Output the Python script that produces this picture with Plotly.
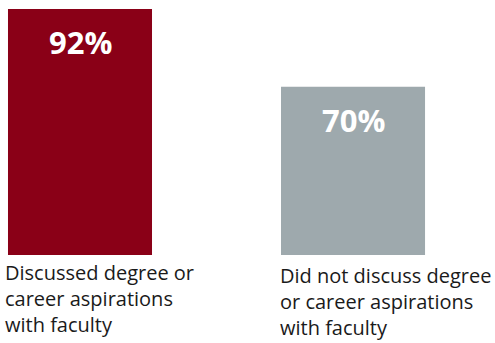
import plotly.graph_objects as go

categories = ["Discussed degree or<br>career aspirations<br>with faculty",
              "Did not discuss degree<br>or career aspirations<br>with faculty"]
values = [92, 70]
colors = ["#8A0017", "#9EA9AD"]
value_labels = [f"{v}%" for v in values]

bar_width = 0.5275
xs = list(range(len(values)))

fig = go.Figure()
fig.add_trace(go.Bar(x=xs, y=values, width=bar_width, marker=dict(color=colors, line=dict(width=0)),
                     hoverinfo="skip"))

for i, (v, t) in enumerate(zip(values, value_labels)):
    fig.add_annotation(x=i, y=v, xref="x", yref="y", text=f"<b>{t}</b>", showarrow=False,
                       yanchor="top", yshift=-10,
                       font=dict(family="Open Sans", size=31, color="white"))

label_shifts = [-5, -3]
label_yshift = [-2, -5]
for i, c in enumerate(categories):
    fig.add_annotation(x=i - bar_width / 2, y=0, xref="x", yref="paper", text=c, showarrow=False,
                       xanchor="left", yanchor="top", align="left", xshift=label_shifts[i],
                       yshift=label_yshift[i],
                       font=dict(family="Open Sans", size=20, color="#1a1a1a"))

fig.update_layout(
    width=495, height=343,
    margin=dict(l=0, r=0, t=0, b=88),
    paper_bgcolor="white", plot_bgcolor="white",
    showlegend=False,
    xaxis=dict(range=[-0.293, 1.520], visible=False, fixedrange=True),
    yaxis=dict(range=[22.3, 94.55], visible=False, fixedrange=True),
)
fig.write_html("out.html")
